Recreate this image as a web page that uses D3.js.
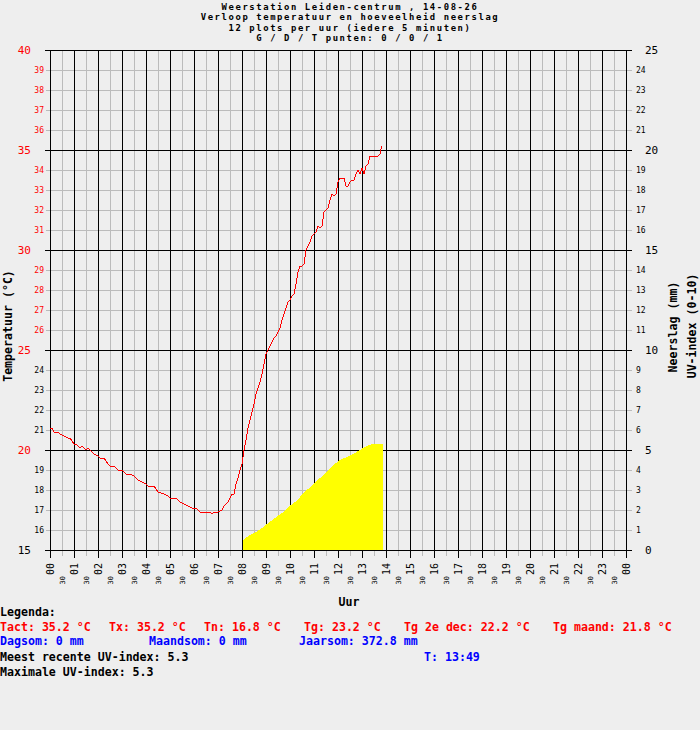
<!DOCTYPE html>
<html lang="nl">
<head>
<meta charset="UTF-8">
<title>Weerstation Leiden-centrum</title>
<script src="https://d3js.org/d3.v7.min.js"></script>
<style>
    body { margin: 0; background: #eeeeee; }
    svg { display: block; font-family: "DejaVu Sans Mono", monospace; }
    .bold { font-weight: bold; }
</style>
</head>
<body>
<div id="chart"></div>
<script>
var tempTimes = ["00:00","00:05","00:10","00:20","00:25","00:35","00:45","00:50","01:00","01:05",
    "01:15","01:20","01:30","01:35","01:45","01:50","02:00","02:05","02:15","02:25",
    "02:30","02:40","02:50","03:00","03:05","03:10","03:20","03:30","03:40","03:50",
    "04:00","04:05","04:20","04:30","04:45","04:55","05:00","05:15","05:25","05:35",
    "05:45","05:55","06:05","06:15","06:40","06:45","06:50","07:00","07:10","07:15",
    "07:25","07:30","07:35","07:40","07:45","07:50","07:55","08:00","08:05","08:10",
    "08:15","08:20","08:25","08:30","08:35","08:40","08:45","08:50","08:55","09:00",
    "09:05","09:10","09:15","09:20","09:25","09:30","09:35","09:40","09:45","09:50",
    "09:55","10:00","10:05","10:10","10:15","10:20","10:25","10:30","10:35","10:40",
    "10:45","10:50","10:55","11:00","11:05","11:10","11:15","11:20","11:25","11:30",
    "11:35","11:40","11:45","11:50","11:55","12:00","12:05","12:10","12:15","12:20",
    "12:25","12:30","12:35","12:40","12:45","12:50","12:55","13:00","13:05","13:10",
    "13:15","13:20","13:35","13:40","13:45","13:49"];
var tempValues = [21.1,21.1,20.9,20.9,20.8,20.7,20.6,20.6,20.3,20.3,
    20.1,20.2,20.0,20.1,19.9,19.8,19.7,19.6,19.6,19.3,
    19.2,19.2,19.0,19.0,18.9,18.8,18.8,18.7,18.5,18.4,
    18.3,18.2,18.2,17.9,17.8,17.7,17.6,17.6,17.4,17.3,
    17.2,17.1,17.1,16.9,16.9,16.8,16.9,16.9,17.0,17.2,
    17.4,17.6,17.8,17.8,18.3,18.6,19.0,19.3,20.0,20.5,
    21.1,21.5,21.9,22.3,22.8,23.1,23.4,23.8,24.3,24.8,
    25.0,25.2,25.4,25.6,25.7,25.9,26.1,26.5,26.8,27.1,
    27.4,27.5,27.7,27.8,28.3,28.9,29.2,29.2,29.3,30.0,
    30.2,30.4,30.7,30.8,30.9,31.2,31.1,31.2,31.9,32.0,
    32.1,32.5,32.8,32.7,32.8,33.4,33.6,33.6,33.6,33.2,
    33.2,33.4,33.5,33.5,33.8,34.0,33.8,34.1,33.8,34.2,
    34.3,34.7,34.7,34.7,34.8,35.2];

var uvTimes = ["08:03","08:19","08:36","08:53","09:09","09:26","09:43","09:59","10:16","10:25",
    "10:41","10:49","10:58","11:15","11:32","11:48","12:05","12:22","12:38","12:55",
    "13:11","13:28","13:52"];
var uvValues = [0.5,0.75,0.9,1.15,1.4,1.65,1.9,2.2,2.45,2.65,
    3.0,3.1,3.3,3.6,3.9,4.25,4.5,4.65,4.8,5.0,
    5.2,5.3,5.3];

var titleLines = ["Weerstation Leiden-centrum , 14-08-26",
    "Verloop temperatuur en hoeveelheid neerslag",
    "12 plots per uur (iedere 5 minuten)",
    "G / D / T punten: 0 / 0 / 1"];
var hourLabels = ["00","01","02","03","04","05","06","07","08","09","10","11",
    "12","13","14","15","16","17","18","19","20","21","22","23","00"];
var tempTicks = d3.range(15, 41);
var rightTicks = d3.range(0, 26);

var legendRed = [["Tact: 35.2 °C", 0], ["Tx: 35.2 °C", 109], ["Tn: 16.8 °C", 204],
    ["Tg: 23.2 °C", 304], ["Tg 2e dec: 22.2 °C", 404], ["Tg maand: 21.8 °C", 553]];
var legendBlue = [["Dagsom: 0 mm", 0], ["Maandsom: 0 mm", 149], ["Jaarsom: 372.8 mm", 299]];

function toMin(s) {
    var p = s.split(":");
    return +p[0] * 60 + +p[1];
}

var width = 700, height = 730;
var svg = d3.select("#chart").append("svg")
    .attr("width", width)
    .attr("height", height);

svg.append("rect").attr("width", width).attr("height", height).attr("fill", "#eeeeee");

var x = d3.scaleLinear().domain([0, 1440]).range([50, 626]);
var y = d3.scaleLinear().domain([15, 40]).range([550, 50]);
var y2 = d3.scaleLinear().domain([0, 25]).range([550, 50]);

function px(v) { return Math.round(v) + 0.5; }

var grid = svg.append("g").attr("shape-rendering", "crispEdges");

// grijze lijnen
grid.selectAll(".hminor")
    .data(tempTicks.filter(function(d) { return d % 5 !== 0; }))
    .enter().append("line")
    .attr("x1", 46).attr("x2", 632)
    .attr("y1", function(d) { return px(y(d)); })
    .attr("y2", function(d) { return px(y(d)); })
    .attr("stroke", "#bbbbbb");

grid.selectAll(".vminor")
    .data(d3.range(30, 1440, 60))
    .enter().append("line")
    .attr("x1", function(d) { return px(x(d)); })
    .attr("x2", function(d) { return px(x(d)); })
    .attr("y1", 50).attr("y2", 556)
    .attr("stroke", "#bbbbbb");

// zwarte lijnen
grid.selectAll(".vmajor")
    .data(d3.range(0, 1441, 60))
    .enter().append("line")
    .attr("x1", function(d) { return px(x(d)); })
    .attr("x2", function(d) { return px(x(d)); })
    .attr("y1", 50).attr("y2", 558)
    .attr("stroke", "#000");

grid.selectAll(".hmajor")
    .data(tempTicks.filter(function(d) { return d % 5 === 0; }))
    .enter().append("line")
    .attr("x1", 45).attr("x2", 632)
    .attr("y1", function(d) { return px(y(d)); })
    .attr("y2", function(d) { return px(y(d)); })
    .attr("stroke", "#000");

// UV-index vlak
var uvData = uvTimes.map(function(t, i) { return { m: toMin(t), v: uvValues[i] }; });
var area = d3.area()
    .x(function(d) { return x(d.m); })
    .y0(y2(0))
    .y1(function(d) { return y2(d.v); });
svg.append("path")
    .datum(uvData)
    .attr("d", area)
    .attr("fill", "#ffff00")
    .attr("shape-rendering", "crispEdges");

// temperatuur lijn
var tempData = tempTimes.map(function(t, i) { return { m: toMin(t), v: tempValues[i] }; });
var line = d3.line()
    .x(function(d) { return x(d.m); })
    .y(function(d) { return y(d.v); });
svg.append("path")
    .datum(tempData)
    .attr("d", line)
    .attr("fill", "none")
    .attr("stroke", "#ff0000")
    .attr("stroke-width", 1)
    .attr("shape-rendering", "crispEdges");

// linker as labels
svg.selectAll(".ltick")
    .data(tempTicks)
    .enter().append("text")
    .attr("x", function(d) { return d % 5 === 0 ? 31 : 44; })
    .attr("y", function(d) { return y(d); })
    .attr("dy", "0.36em")
    .attr("text-anchor", "end")
    .attr("font-size", function(d) { return d % 5 === 0 ? "11px" : "8px"; })
    .attr("fill", function(d) {
        if (d % 5 === 0) return d > 15 ? "#ff0000" : "#000";
        return d >= 25 ? "#ff0000" : "#000";
    })
    .text(function(d) { return d; });

// rechter as labels
svg.selectAll(".rtick")
    .data(rightTicks)
    .enter().append("text")
    .attr("x", function(d) { return d % 5 === 0 ? 645 : 636; })
    .attr("y", function(d) { return y2(d); })
    .attr("dy", "0.36em")
    .attr("font-size", function(d) { return d % 5 === 0 ? "11px" : "8px"; })
    .attr("fill", "#000")
    .text(function(d) { return d; });

// uur labels
svg.selectAll(".hlab")
    .data(hourLabels)
    .enter().append("text")
    .attr("transform", function(d, i) { return "translate(" + x(i * 60) + ",563) rotate(-90)"; })
    .attr("dy", "0.36em")
    .attr("text-anchor", "end")
    .attr("font-size", "10px")
    .text(function(d) { return d; });

svg.selectAll(".mlab")
    .data(d3.range(30, 1440, 60))
    .enter().append("text")
    .attr("transform", function(d) { return "translate(" + x(d) + ",576) rotate(-90)"; })
    .attr("dy", "0.36em")
    .attr("text-anchor", "end")
    .attr("font-size", "7px")
    .text("30");

// titel: kleiner lettertype met extra spatiering, zodat regels niet overlappen
svg.selectAll(".title")
    .data(titleLines)
    .enter().append("text")
    .attr("class", "bold")
    .attr("x", 350)
    .attr("y", function(d, i) { return 9.5 + i * 10.5; })
    .attr("text-anchor", "middle")
    .attr("font-size", "8.9px")
    .attr("letter-spacing", "1.6px")
    .text(function(d) { return d; });

svg.append("text").attr("class", "bold")
    .attr("x", 349).attr("y", 606)
    .attr("text-anchor", "middle").attr("font-size", "11.6px")
    .text("Uur");

svg.append("text").attr("class", "bold")
    .attr("transform", "translate(12,326) rotate(-90)")
    .attr("text-anchor", "middle").attr("font-size", "11.6px")
    .text("Temperatuur (°C)");
svg.append("text").attr("class", "bold")
    .attr("transform", "translate(677,327) rotate(-90)")
    .attr("text-anchor", "middle").attr("font-size", "11.6px")
    .text("Neerslag (mm)");
svg.append("text").attr("class", "bold")
    .attr("transform", "translate(696,326) rotate(-90)")
    .attr("text-anchor", "middle").attr("font-size", "11.6px")
    .text("UV-index (0-10)");

// legenda
var leg = svg.append("g").attr("class", "bold").attr("font-size", "11.6px");
leg.append("text").attr("x", 0).attr("y", 616).text("Legenda:");
leg.selectAll(".lr").data(legendRed).enter().append("text")
    .attr("x", function(d) { return d[1]; }).attr("y", 631)
    .attr("fill", "#ff0000").text(function(d) { return d[0]; });
leg.selectAll(".lb").data(legendBlue).enter().append("text")
    .attr("x", function(d) { return d[1]; }).attr("y", 645)
    .attr("fill", "#0000ff").text(function(d) { return d[0]; });
leg.append("text").attr("x", 0).attr("y", 661).text("Meest recente UV-index: 5.3");
leg.append("text").attr("x", 424).attr("y", 661).attr("fill", "#0000ff").text("T: 13:49");
leg.append("text").attr("x", 0).attr("y", 676).text("Maximale UV-index: 5.3");
</script>
</body>
</html>
